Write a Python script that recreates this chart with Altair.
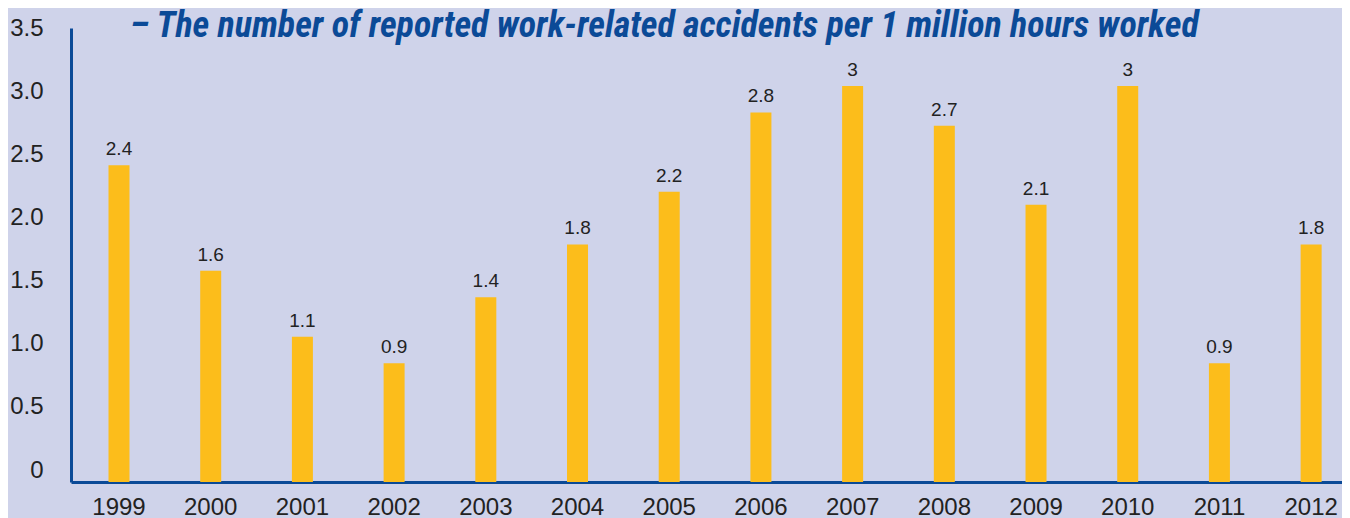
import altair as alt
import pandas as pd

years = ["1999", "2000", "2001", "2002", "2003", "2004", "2005",
         "2006", "2007", "2008", "2009", "2010", "2011", "2012"]
values = [2.4, 1.6, 1.1, 0.9, 1.4, 1.8, 2.2, 2.8, 3.0, 2.7, 2.1, 3.0, 0.9, 1.8]
labels = ["2.4", "1.6", "1.1", "0.9", "1.4", "1.8", "2.2", "2.8", "3", "2.7", "2.1", "3", "0.9", "1.8"]
y_ticks = [0, 0.5, 1.0, 1.5, 2.0, 2.5, 3.0, 3.5]
title_text = ["– The number of reported work-related accidents per 1 million hours worked"]

BG = "#cfd3ea"
BAR = "#fcbd1b"
BLUE = "#0b4a97"
TXT = "#222222"

df = pd.DataFrame({"year": years, "value": values, "label": labels})
tick_df = pd.DataFrame({"tick": y_ticks})
title_df = pd.DataFrame({"t": title_text})

xscale = alt.Scale(paddingInner=0.771, paddingOuter=0.3156, align=0.648, round=False)
yscale = alt.Scale(domain=[0, 3.44], nice=False, zero=False)

xenc = alt.X("year:N", sort=years, scale=xscale,
             axis=alt.Axis(title=None, labelAngle=0, ticks=False, labelFont="Liberation Sans",
                           labelFontSize=24, labelColor=TXT, labelPadding=13,
                           domainColor=BLUE, domainWidth=3, grid=False))

bars = alt.Chart(df).mark_bar(color=BAR).encode(
    x=xenc,
    y=alt.Y("value:Q", scale=yscale, axis=None),
)

text = alt.Chart(df).mark_text(font="Liberation Sans", fontSize=19, color=TXT,
                               baseline="alphabetic", dy=-10).encode(
    x=alt.X("year:N", sort=years),
    y=alt.Y("value:Q", scale=yscale, axis=None),
    text="label:N",
)

yaxis_layer = alt.Chart(tick_df).mark_point(opacity=0).encode(
    y=alt.Y("tick:Q", scale=alt.Scale(domain=[-0.0947, 3.5], nice=False, zero=False),
            axis=alt.Axis(title=None, orient="left", values=y_ticks, ticks=False, grid=False,
                          labelFont="Liberation Sans", labelFontSize=24, labelColor=TXT,
                          labelPadding=28, domainColor=BLUE, domainWidth=3,
                          labelExpr="datum.value == 0 ? '0' : format(datum.value, '.1f')")),
)

title_layer = alt.Chart(title_df).mark_text(
    align="left", baseline="alphabetic",
    font="Roboto Condensed, DejaVu Sans Condensed",
    fontSize=36, fontStyle="italic", fontWeight="bold", color=BLUE,
).encode(x=alt.value(59), y=alt.value(9), text="t:N")

chart = alt.layer(bars, text, yaxis_layer, title_layer).resolve_scale(y="independent").properties(
    width=1271, height=454,
    autosize=alt.AutoSizeParams(type="none"),
    padding={"left": 63, "top": 20, "right": 0, "bottom": 36},
    background=BG,
).configure_view(stroke=None)

chart.save("out.html", embed_options={"renderer": "svg", "actions": False})
